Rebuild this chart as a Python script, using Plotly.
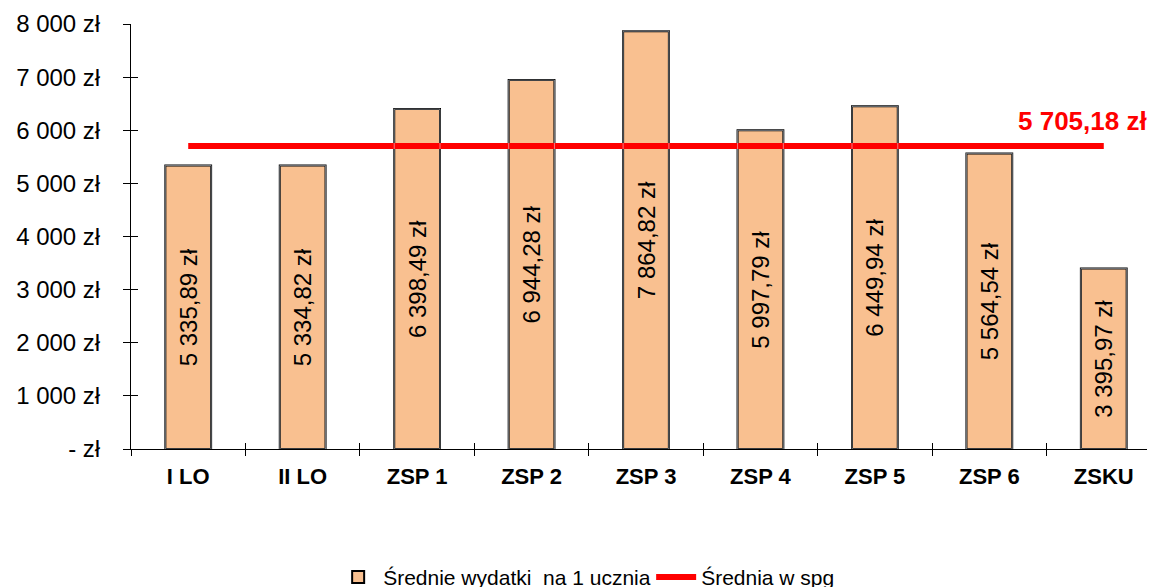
import plotly.graph_objects as go

categories = ["I LO", "II LO", "ZSP 1", "ZSP 2", "ZSP 3", "ZSP 4", "ZSP 5", "ZSP 6", "ZSKU"]
values = [5335.89, 5334.82, 6398.49, 6944.28, 7864.82, 5997.79, 6449.94, 5564.54, 3395.97]
average = 5705.18
y_ticks = [0, 1000, 2000, 3000, 4000, 5000, 6000, 7000, 8000]

FONT = "Liberation Sans, Arial"


def pln(v, dec=2):
    s = f"{v:,.{dec}f}".replace(",", " ").replace(".", ",")
    return s + " zł"


def tick_label(v):
    return "- zł" if v == 0 else f"{v:,.0f}".replace(",", " ") + " zł"


fig = go.Figure()
fig.add_trace(go.Bar(
    x=categories, y=values,
    name="Średnie wydatki \u00a0na 1 ucznia",
    marker=dict(color="#F9C090", line=dict(color="black", width=2)),
    width=0.4,
    text=[pln(v) for v in values],
    textposition="inside", insidetextanchor="middle", textangle=-90,
    textfont=dict(family=FONT, size=24, color="black"),
    cliponaxis=False,
))
fig.add_trace(go.Scatter(
    x=categories, y=[average] * len(categories),
    mode="lines", name="Średnia w spg",
    line=dict(color="#FF0000", width=6),
))
# invisible trace carrying the overlay axes (inner halves of crossing ticks)
fig.add_trace(go.Bar(
    x=categories, y=values, xaxis="x2", yaxis="y2",
    marker=dict(color="rgba(0,0,0,0)"), showlegend=False, hoverinfo="skip",
    width=0.4,
))
fig.add_annotation(
    x=1.0, xref="paper", xanchor="right", xshift=-12,
    y=average, yref="y", yanchor="bottom", yshift=8,
    text=f"<b>{pln(average)}</b>", showarrow=False,
    font=dict(family=FONT, size=26, color="#FF0000"),
)

# page body has an 8px margin: compensate so the plot area lands where the reference has it
fig.update_layout(
    width=1155, height=587,
    margin=dict(l=123, r=2, t=16, b=146, autoexpand=False),
    plot_bgcolor="white", paper_bgcolor="white",
    font=dict(family=FONT, size=20, color="black"),
    bargap=0.6,
    showlegend=True,
    legend=dict(orientation="h", x=0.505, xanchor="center",
                yref="container", y=0.03, yanchor="middle",
                font=dict(family=FONT, size=21), itemwidth=40, entrywidth=263),
    xaxis2=dict(overlaying="x", matches="x", anchor="y", side="bottom", automargin=False,
                showline=False, ticks="inside", ticklen=6, tickcolor="black",
                tickson="boundaries", showticklabels=False, showgrid=False),
    yaxis2=dict(overlaying="y", matches="y", anchor="x", side="left", automargin=False,
                showline=False, ticks="inside", ticklen=7, tickcolor="black",
                tickvals=y_ticks, showticklabels=False, showgrid=False, zeroline=False),
)
fig.update_layout(xaxis=dict(
    automargin=False,
    showline=True, linecolor="black", linewidth=1,
    ticks="outside", ticklen=6, tickcolor="black", tickson="boundaries",
    ticklabelstandoff=8,
    tickfont=dict(family=FONT, size=22, color="black", weight="bold"),
    showgrid=False,
))
fig.update_layout(yaxis=dict(
    automargin=False,
    range=[0, 8000], showline=True, linecolor="black", linewidth=1,
    tickvals=y_ticks, ticktext=[tick_label(v) for v in y_ticks],
    tickfont=dict(family=FONT, size=24, color="black"),
    ticks="outside", ticklen=7, tickcolor="black",
    ticklabelstandoff=18,
    showgrid=False, zeroline=False,
))

fig.write_html("out.html")
